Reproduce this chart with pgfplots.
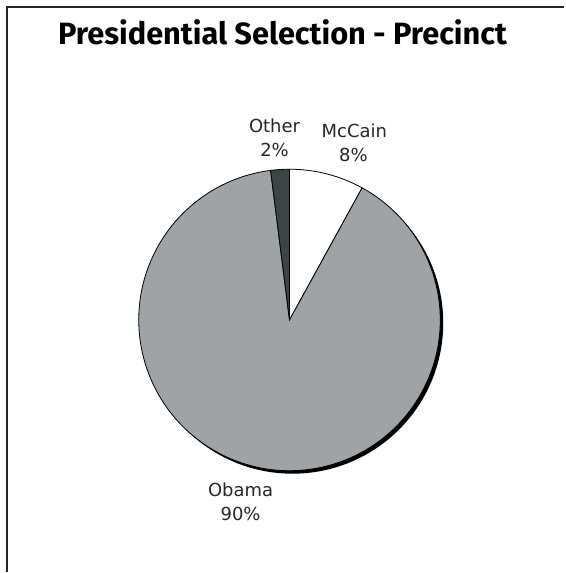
\documentclass[border=0pt]{standalone}
\usepackage{fontspec}
\setmainfont{DejaVu Sans}
\newfontfamily\titlefont[Ligatures=NoCommon]{Fira Sans}
\usepackage{pgfplots}
\pgfplotsset{compat=1.18}
\usepackage{pgfplotstable}

\definecolor{pie0}{HTML}{FFFFFF}
\definecolor{pie1}{HTML}{A0A3A6}
\definecolor{pie2}{HTML}{3C4446}

\pgfplotstableread{
label value
McCain 8
Obama 90
Other 2
}\piedata

\xdef\acc{90}
\pgfplotstableforeachcolumnelement{value}\of\piedata\as\v{%
  \pgfmathsetmacro\endA{\acc-3.6*\v}%
  \expandafter\xdef\csname sA\pgfplotstablerow\endcsname{\acc}%
  \expandafter\xdef\csname eA\pgfplotstablerow\endcsname{\endA}%
  \xdef\acc{\endA}%
}

\begin{document}
\begin{tikzpicture}
\begin{axis}[
  scale only axis, width=565bp, height=573bp,
  xmin=0, xmax=565, ymin=0, ymax=573, y dir=reverse,
  hide axis, clip=false,
]
\fill[white] (axis cs:0,0) rectangle (axis cs:565,573);
\draw[line width=2bp, black!85] (axis cs:7,573) -- (axis cs:7,7);
\draw[line width=2bp, black!85] (axis cs:6,7) -- (axis cs:565,7);
\node[font=\titlefont\bfseries\fontsize{30.8bp}{34bp}\selectfont, anchor=base] at (axis cs:283,45) {Presidential Selection - Precinct};
\fill[black] (axis cs:293,323.5) circle[radius=151bp];
\pgfplotsinvokeforeach{0,1,2}{
  \filldraw[fill=pie#1, draw=black, line width=0.8bp] (axis cs:290,320.5) -- ++(\csname sA#1\endcsname:151bp) arc[start angle=\csname sA#1\endcsname, end angle=\csname eA#1\endcsname, radius=151bp] -- cycle;
}
\tikzset{lbl/.style={font=\fontsize{18bp}{22bp}\selectfont, anchor=base, inner sep=0pt, text=black!85}}
\node[lbl] at (axis cs:355,138) {McCain};
\node[lbl] at (axis cs:354,162) {8\%};
\node[lbl] at (axis cs:275,133) {Other};
\node[lbl] at (axis cs:275,157) {2\%};
\node[lbl] at (axis cs:241,497) {Obama};
\node[lbl] at (axis cs:241,521) {90\%};
\end{axis}
\end{tikzpicture}
\end{document}
